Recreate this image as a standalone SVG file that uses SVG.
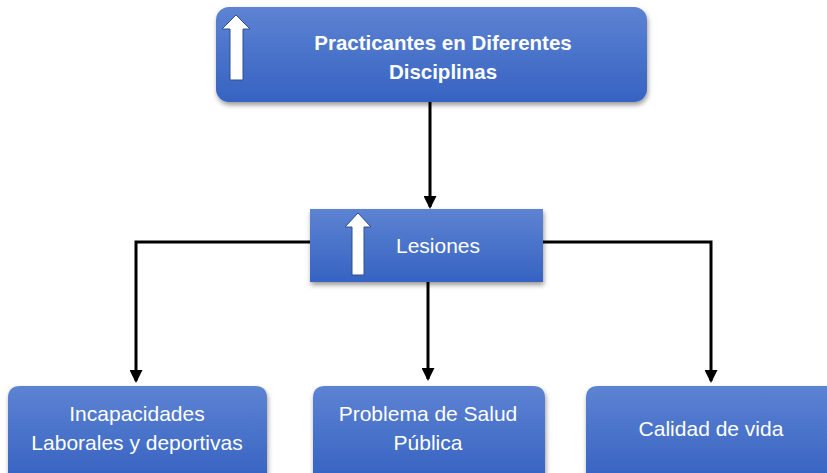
<svg xmlns="http://www.w3.org/2000/svg" width="827" height="473" viewBox="0 0 827 473">
<defs>
<linearGradient id="g" x1="0" y1="0" x2="0" y2="1">
<stop offset="0" stop-color="#5d83d2"/>
<stop offset="1" stop-color="#3663c2"/>
</linearGradient>
<filter id="sh" x="-10%" y="-10%" width="120%" height="130%">
<feDropShadow dx="1" dy="3" stdDeviation="2.5" flood-color="#000" flood-opacity="0.4"/>
</filter>
<marker id="ah" markerWidth="13" markerHeight="13" refX="11" refY="6.5" orient="auto" markerUnits="userSpaceOnUse">
<path d="M0,0 L13,6.5 L0,13 Z" fill="#000"/>
</marker>
</defs>
<style>
.box{fill:url(#g);filter:url(#sh);}
.t{fill:#fff;font-family:"Liberation Sans",Arial,sans-serif;text-anchor:middle;}
.tb{font-weight:bold;font-size:20.5px;}
.tr{font-size:21px;}
.up{fill:#fff;stroke:#2f4f8f;stroke-width:1;}
.c{fill:none;stroke:#000;stroke-width:3;marker-end:url(#ah);}
</style>
<g id="connectors">
<path class="c" d="M430,102 V207"/>
<path class="c" d="M310,242 H136 V381"/>
<path class="c" d="M543,242 H711 V381"/>
<path class="c" d="M428,282 V379"/>
</g>
<g id="top">
<rect class="box" x="216" y="7" width="431" height="95" rx="13"/>
<path class="up" d="M236,15 L250,29 L243,29 L243,80 L230,80 L230,29 L222,29 Z"/>
<text class="t tb" x="443" y="50">Practicantes en Diferentes</text>
<text class="t tb" x="443" y="79">Disciplinas</text>
</g>
<g id="lesiones">
<rect class="box" x="310" y="209" width="233" height="73"/>
<path class="up" d="M358,213 L371,227 L364,227 L364,275 L352,275 L352,227 L345,227 Z"/>
<text class="t tr" x="438" y="253">Lesiones</text>
</g>
<g id="incapacidades">
<path class="box" d="M8,473 V398 Q8,386 20,386 H255 Q267,386 267,398 V480 H8 Z"/>
<text class="t tr" x="137" y="421">Incapacidades</text>
<text class="t tr" x="137" y="450">Laborales y deportivas</text>
</g>
<g id="problema">
<path class="box" d="M313,480 V398 Q313,386 325,386 H533 Q545,386 545,398 V480 Z"/>
<text class="t tr" x="428" y="421">Problema de Salud</text>
<text class="t tr" x="428" y="450">Pública</text>
</g>
<g id="calidad">
<path class="box" d="M586,480 V398 Q586,386 598,386 H830 V480 Z"/>
<text class="t tr" x="711" y="436">Calidad de vida</text>
</g>
</svg>
